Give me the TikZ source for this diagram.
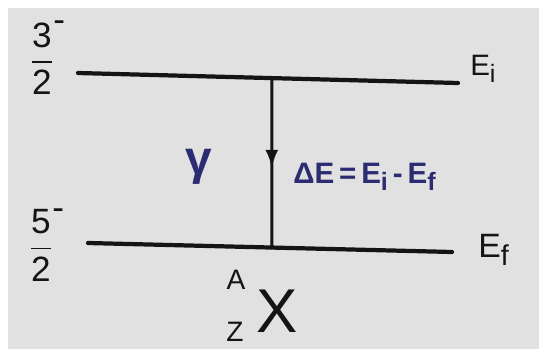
\documentclass[tikz,border=0pt]{standalone}
\usepackage{amsmath}
\usepackage{fontspec}
\setmainfont{Liberation Sans}
\usepackage{xcolor}
\usetikzlibrary{arrows.meta,positioning,calc,decorations.markings}
\definecolor{penblue}{HTML}{2C2C72}
\definecolor{penblack}{HTML}{141414}
\definecolor{paper}{HTML}{E1E1E1}
\newcommand{\lvsub}[1]{\raisebox{-0.45ex}{\scalebox{0.85}{#1}}}

\begin{document}
\begin{tikzpicture}[
    x=0.025cm,y=-0.025cm,
    lvl/.style = {penblack,line width=3pt,line cap=round},
    gam/.style = {penblack,line width=2.2pt,postaction={decorate},
                  decoration={markings,mark=at position 0.53 with
                  {\arrow{Latex[length=4.5mm,width=3.2mm]}}}},
    jp/.style  = {text=penblack,font=\fontsize{25}{30}\selectfont,inner sep=0pt},
    en/.style  = {text=penblack,font=\fontsize{21}{25}\selectfont,inner sep=0pt,anchor=base west},
    bl/.style  = {text=penblue,inner sep=0pt},
    nuc/.style = {text=penblack,inner sep=0pt},
  ]

  \useasboundingbox (0,0) rectangle (539,349);
  \fill[paper] (8,8) rectangle (539,349);

  % levels
  \coordinate (ilft) at (78,73);
  \coordinate (irgt) at (458,83);
  \coordinate (flft) at (88,243);
  \coordinate (frgt) at (452,252);
  \draw[lvl] (ilft) -- (irgt);
  \draw[lvl] (flft) -- (frgt);

  % gamma transition
  \coordinate (itop) at ($(ilft)!0.51!(irgt)$);
  \coordinate (fbot) at ($(flft)!0.505!(frgt)$);
  \draw[gam] (itop) -- (fbot);

  \node[jp] (jtop) at (48,58)  {$\genfrac{}{}{0.8pt}{0}{\mbox{3}}{\mbox{2}}^{\mbox{-}}$};
  \node[jp] (jbot) at (47,245) {$\genfrac{}{}{0.8pt}{0}{\mbox{5}}{\mbox{2}}^{\mbox{-}}$};
  \node[en] (ei) at (470,75) {E\lvsub{i}};
  \node[en,font=\fontsize{24}{28}\selectfont] (ef) at (478,257) {E\lvsub{f}};

  \node[bl,font=\fontsize{34}{40}\bfseries] (gm) at (199,167) {γ};
  \node[bl,font=\fontsize{21}{25}\bfseries,anchor=base west] (de) at (293,183)
       {ΔE\,=\,E\lvsub{i}\,-\,E\lvsub{f}};

  % nucleus
  \node[nuc,font=\fontsize{44}{50}\selectfont] (elem) at (277,311) {X};
  \node[nuc,font=\fontsize{20}{24}\selectfont] (mass) at (236,280) {A};
  \node[nuc,font=\fontsize{20}{24}\selectfont] (chrg) at (235,332) {Z};

\end{tikzpicture}
\end{document}
